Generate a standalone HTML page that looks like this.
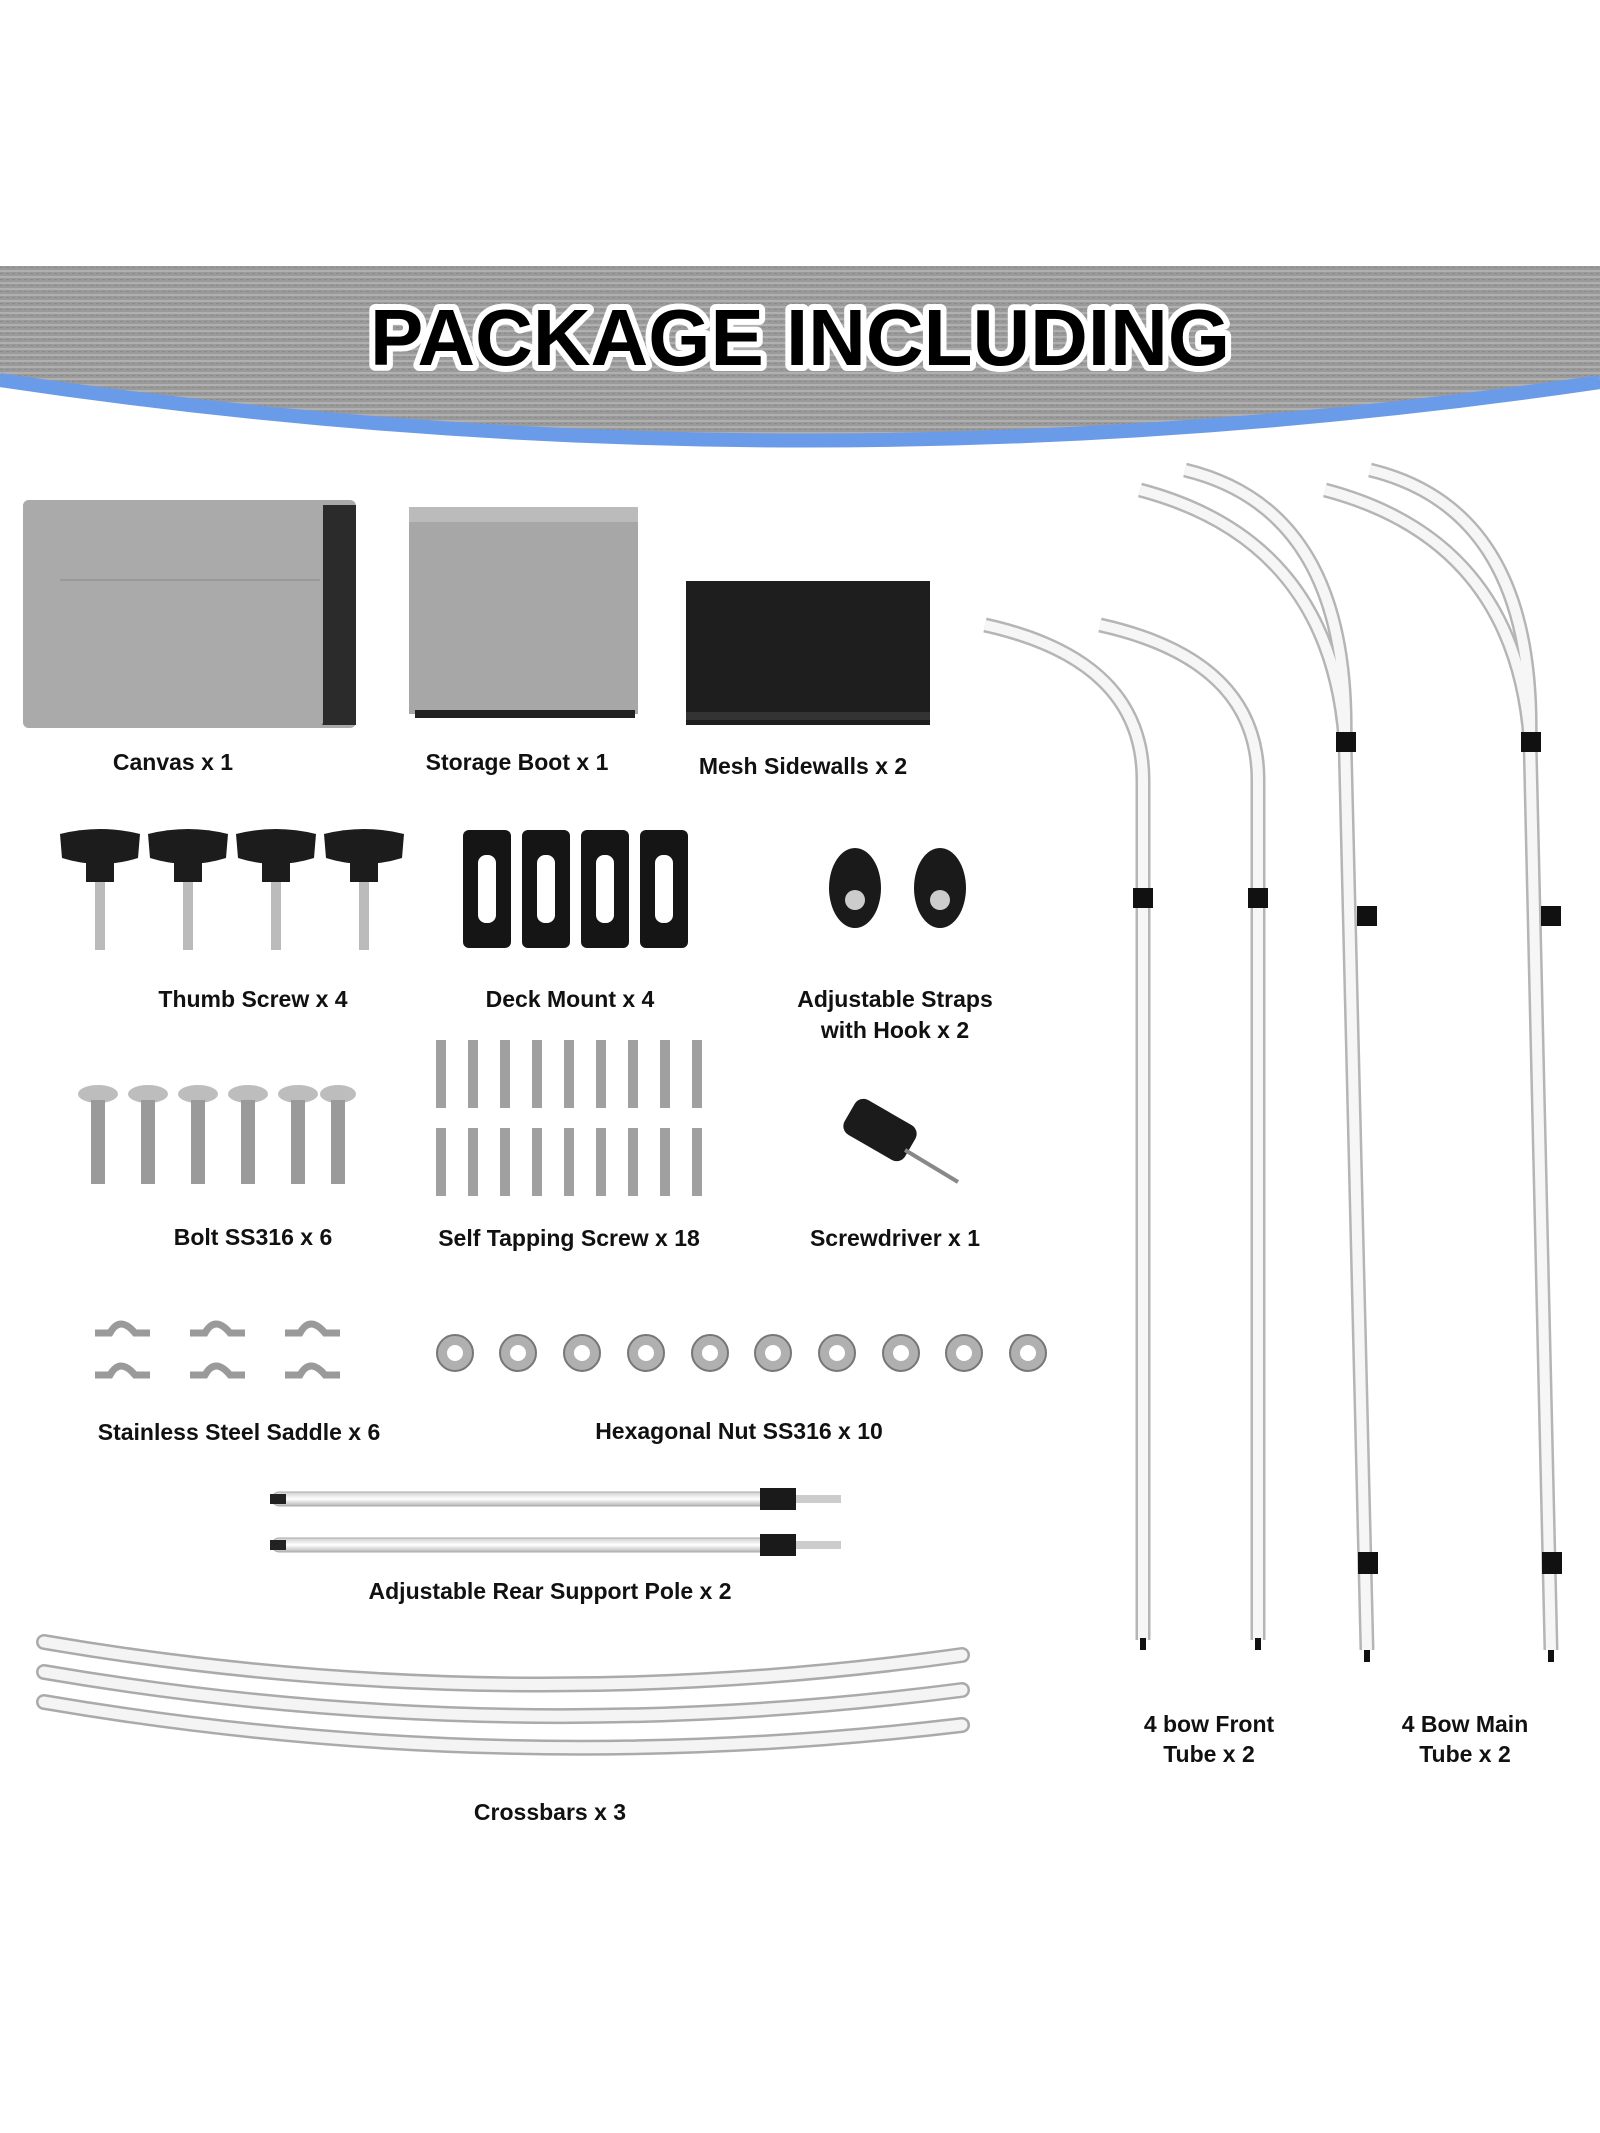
<!DOCTYPE html>
<html><head><meta charset="utf-8"><style>
html,body{margin:0;padding:0;background:#fff}
svg{display:block}
.l{font-family:"Liberation Sans",sans-serif;font-weight:bold;font-size:23px;fill:#111;text-anchor:middle}
</style></head><body>
<svg width="1600" height="2133" viewBox="0 0 1600 2133" xmlns="http://www.w3.org/2000/svg">
<defs>
<pattern id="tx" width="6" height="6" patternUnits="userSpaceOnUse">
<rect width="6" height="6" fill="#9a9a9a"/><rect width="6" height="2" fill="#b0b0b0"/><rect y="3" width="3" height="1" fill="#8a8a8a"/>
</pattern>
<linearGradient id="pole" x1="0" x2="1"><stop offset="0" stop-color="#cfcfcf"/><stop offset=".5" stop-color="#fff"/><stop offset="1" stop-color="#bdbdbd"/></linearGradient>
<linearGradient id="poleh" x1="0" x2="0" y1="0" y2="1"><stop offset="0" stop-color="#cfcfcf"/><stop offset=".5" stop-color="#fff"/><stop offset="1" stop-color="#b5b5b5"/></linearGradient>
</defs>
<!-- header -->
<path d="M0 266 H1600 V382 Q800 500 0 380 Z" fill="url(#tx)"/>
<path d="M0 380 Q800 500 1600 382" fill="none" stroke="#6a9be8" stroke-width="14"/>
<text x="800" y="365" text-anchor="middle" font-family="Liberation Sans,sans-serif" font-weight="bold" font-size="80" textLength="860" lengthAdjust="spacingAndGlyphs" fill="#000" stroke="#fff" stroke-width="12" paint-order="stroke" stroke-linejoin="round">PACKAGE INCLUDING</text>

<!-- canvas -->
<rect x="23" y="500" width="333" height="228" rx="6" fill="#a9a9a9"/>
<rect x="320" y="505" width="36" height="220" fill="#2b2b2b"/>
<rect x="23" y="500" width="300" height="228" rx="6" fill="#aaa"/>
<line x1="60" y1="580" x2="320" y2="580" stroke="#999" stroke-width="2"/>
<!-- storage boot -->
<rect x="409" y="507" width="229" height="207" fill="#a7a7a7"/>
<rect x="409" y="507" width="229" height="15" fill="#bbb"/>
<rect x="415" y="710" width="220" height="8" fill="#222"/>
<!-- mesh -->
<rect x="686" y="581" width="244" height="144" fill="#1e1e1e"/>
<rect x="686" y="712" width="244" height="8" fill="#333"/>
<text class="l" x="173" y="770">Canvas x 1</text>
<text class="l" x="517" y="770">Storage Boot x 1</text>
<text class="l" x="803" y="774">Mesh Sidewalls x 2</text>

<!-- thumb screws -->
<g fill="#1c1c1c">
<g transform="translate(100,830)"><path d="M-40 4 Q0 -6 40 4 L38 28 Q0 40 -38 28 Z"/><rect x="-14" y="30" width="28" height="22"/><rect x="-5" y="52" width="10" height="68" fill="#bbb"/></g>
<g transform="translate(188,830)"><path d="M-40 4 Q0 -6 40 4 L38 28 Q0 40 -38 28 Z"/><rect x="-14" y="30" width="28" height="22"/><rect x="-5" y="52" width="10" height="68" fill="#bbb"/></g>
<g transform="translate(276,830)"><path d="M-40 4 Q0 -6 40 4 L38 28 Q0 40 -38 28 Z"/><rect x="-14" y="30" width="28" height="22"/><rect x="-5" y="52" width="10" height="68" fill="#bbb"/></g>
<g transform="translate(364,830)"><path d="M-40 4 Q0 -6 40 4 L38 28 Q0 40 -38 28 Z"/><rect x="-14" y="30" width="28" height="22"/><rect x="-5" y="52" width="10" height="68" fill="#bbb"/></g>
</g>
<!-- deck mounts -->
<g fill="#151515">
<rect x="463" y="830" width="48" height="118" rx="6"/><rect x="522" y="830" width="48" height="118" rx="6"/><rect x="581" y="830" width="48" height="118" rx="6"/><rect x="640" y="830" width="48" height="118" rx="6"/>
</g>
<g fill="#fff"><rect x="478" y="855" width="18" height="68" rx="8"/><rect x="537" y="855" width="18" height="68" rx="8"/><rect x="596" y="855" width="18" height="68" rx="8"/><rect x="655" y="855" width="18" height="68" rx="8"/></g>
<!-- straps -->
<g fill="#1a1a1a"><ellipse cx="855" cy="888" rx="26" ry="40"/><ellipse cx="940" cy="888" rx="26" ry="40"/></g>
<g fill="#ccc"><circle cx="855" cy="900" r="10"/><circle cx="940" cy="900" r="10"/></g>
<text class="l" x="253" y="1007">Thumb Screw x 4</text>
<text class="l" x="570" y="1007">Deck Mount x 4</text>
<text class="l" x="895" y="1007">Adjustable Straps</text>
<text class="l" x="895" y="1038">with Hook x 2</text>

<!-- bolts -->
<g>
<g fill="#bdbdbd"><ellipse cx="98" cy="1094" rx="20" ry="9"/><ellipse cx="148" cy="1094" rx="20" ry="9"/><ellipse cx="198" cy="1094" rx="20" ry="9"/><ellipse cx="248" cy="1094" rx="20" ry="9"/><ellipse cx="298" cy="1094" rx="20" ry="9"/><ellipse cx="338" cy="1094" rx="18" ry="9"/></g>
<g fill="#9a9a9a"><rect x="91" y="1100" width="14" height="84"/><rect x="141" y="1100" width="14" height="84"/><rect x="191" y="1100" width="14" height="84"/><rect x="241" y="1100" width="14" height="84"/><rect x="291" y="1100" width="14" height="84"/><rect x="331" y="1100" width="14" height="84"/></g>
</g>
<!-- self tapping screws -->
<g fill="#a0a0a0">
<g id="sr"><rect x="436" y="1040" width="10" height="68"/><rect x="468" y="1040" width="10" height="68"/><rect x="500" y="1040" width="10" height="68"/><rect x="532" y="1040" width="10" height="68"/><rect x="564" y="1040" width="10" height="68"/><rect x="596" y="1040" width="10" height="68"/><rect x="628" y="1040" width="10" height="68"/><rect x="660" y="1040" width="10" height="68"/><rect x="692" y="1040" width="10" height="68"/></g>
<use href="#sr" y="88"/>
</g>
<!-- screwdriver -->
<rect x="845" y="1110" width="70" height="40" rx="10" fill="#1b1b1b" transform="rotate(30 880 1130)"/>
<line x1="905" y1="1150" x2="958" y2="1182" stroke="#888" stroke-width="4"/>
<text class="l" x="253" y="1245">Bolt SS316 x 6</text>
<text class="l" x="569" y="1246">Self Tapping Screw x 18</text>
<text class="l" x="895" y="1246">Screwdriver x 1</text>

<!-- saddles -->
<g fill="none" stroke="#9a9a9a" stroke-width="7">
<path d="M95 1333 h15 q10 -18 25 0 h15"/><path d="M190 1333 h15 q10 -18 25 0 h15"/><path d="M285 1333 h15 q10 -18 25 0 h15"/>
<path d="M95 1375 h15 q10 -18 25 0 h15"/><path d="M190 1375 h15 q10 -18 25 0 h15"/><path d="M285 1375 h15 q10 -18 25 0 h15"/>
</g>
<!-- nuts -->
<g fill="#b0b0b0" stroke="#777" stroke-width="2">
<circle cx="455" cy="1353" r="18"/><circle cx="518" cy="1353" r="18"/><circle cx="582" cy="1353" r="18"/><circle cx="646" cy="1353" r="18"/><circle cx="710" cy="1353" r="18"/><circle cx="773" cy="1353" r="18"/><circle cx="837" cy="1353" r="18"/><circle cx="901" cy="1353" r="18"/><circle cx="964" cy="1353" r="18"/><circle cx="1028" cy="1353" r="18"/>
</g>
<g fill="#fff"><circle cx="455" cy="1353" r="8"/><circle cx="518" cy="1353" r="8"/><circle cx="582" cy="1353" r="8"/><circle cx="646" cy="1353" r="8"/><circle cx="710" cy="1353" r="8"/><circle cx="773" cy="1353" r="8"/><circle cx="837" cy="1353" r="8"/><circle cx="901" cy="1353" r="8"/><circle cx="964" cy="1353" r="8"/><circle cx="1028" cy="1353" r="8"/></g>
<text class="l" x="239" y="1440">Stainless Steel Saddle x 6</text>
<text class="l" x="739" y="1439">Hexagonal Nut SS316 x 10</text>

<!-- rear poles -->
<rect x="272" y="1492" width="500" height="14" rx="7" fill="url(#poleh)" stroke="#aaa"/>
<rect x="272" y="1538" width="500" height="14" rx="7" fill="url(#poleh)" stroke="#aaa"/>
<rect x="760" y="1488" width="36" height="22" fill="#1a1a1a"/><rect x="760" y="1534" width="36" height="22" fill="#1a1a1a"/>
<rect x="796" y="1495" width="45" height="8" fill="#ccc"/><rect x="796" y="1541" width="45" height="8" fill="#ccc"/>
<rect x="270" y="1494" width="16" height="10" fill="#222"/><rect x="270" y="1540" width="16" height="10" fill="#222"/>
<text class="l" x="550" y="1599">Adjustable Rear Support Pole x 2</text>

<!-- crossbars -->
<g fill="none" stroke="#aaa" stroke-width="16" stroke-linecap="round">
<path d="M44 1642 Q500 1720 962 1655"/><path d="M44 1672 Q500 1750 962 1690"/><path d="M44 1702 Q500 1780 962 1725"/>
</g>
<g fill="none" stroke="#f4f4f4" stroke-width="11" stroke-linecap="round">
<path d="M44 1642 Q500 1720 962 1655"/><path d="M44 1672 Q500 1750 962 1690"/><path d="M44 1702 Q500 1780 962 1725"/>
</g>
<text class="l" x="550" y="1820">Crossbars x 3</text>

<!-- tubes -->
<g fill="none" stroke-linecap="butt">
<g stroke="#b5b5b5" stroke-width="15">
<path d="M985 625 Q1143 660 1143 780 V1640"/><path d="M1100 625 Q1258 660 1258 780 V1640"/>
<path d="M1140 490 Q1330 540 1345 740 L1367 1650"/><path d="M1185 470 Q1350 510 1345 740"/>
<path d="M1325 490 Q1515 540 1530 740 L1551 1650"/><path d="M1370 470 Q1535 510 1530 740"/>
</g>
<g stroke="#f6f6f6" stroke-width="10">
<path d="M985 625 Q1143 660 1143 780 V1640"/><path d="M1100 625 Q1258 660 1258 780 V1640"/>
<path d="M1140 490 Q1330 540 1345 740 L1367 1650"/><path d="M1185 470 Q1350 510 1345 740"/>
<path d="M1325 490 Q1515 540 1530 740 L1551 1650"/><path d="M1370 470 Q1535 510 1530 740"/>
</g>
</g>
<g fill="#111">
<rect x="1133" y="888" width="20" height="20"/><rect x="1248" y="888" width="20" height="20"/>
<rect x="1336" y="732" width="20" height="20"/><rect x="1357" y="906" width="20" height="20"/><rect x="1358" y="1552" width="20" height="22"/>
<rect x="1521" y="732" width="20" height="20"/><rect x="1541" y="906" width="20" height="20"/><rect x="1542" y="1552" width="20" height="22"/>
<rect x="1140" y="1638" width="6" height="12"/><rect x="1255" y="1638" width="6" height="12"/><rect x="1364" y="1650" width="6" height="12"/><rect x="1548" y="1650" width="6" height="12"/>
</g>
<text class="l" x="1209" y="1732">4 bow Front</text>
<text class="l" x="1209" y="1762">Tube x 2</text>
<text class="l" x="1465" y="1732">4 Bow Main</text>
<text class="l" x="1465" y="1762">Tube x 2</text>
</svg>
</body></html>
